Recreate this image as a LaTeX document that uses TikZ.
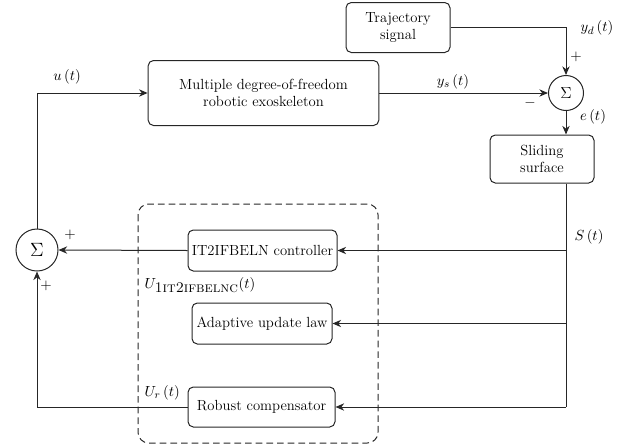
\documentclass[tikz,border=0pt]{standalone}
\usepackage{xcolor}
\usetikzlibrary{shapes.geometric, arrows.meta, positioning, calc}

\begin{document}
\begin{tikzpicture}[
    x=0.75pt, y=-0.75pt,
    every node/.style={font=\fontsize{11}{13}\selectfont},
    blk/.style={rectangle, rounded corners=4pt, draw=black!85, line width=0.75pt, align=center, inner sep=2pt},
    sumnode/.style={circle, draw=black!85, line width=0.75pt, inner sep=0pt},
    arr/.style={draw=black!85, line width=0.75pt, -{Stealth[length=6.5pt, width=5.5pt]}},
    wire/.style={draw=black!85, line width=0.75pt},
    lbl/.style={inner sep=1pt}
]
\useasboundingbox (0,0) rectangle (624,447);

% blocks
\node[blk, minimum width=173pt, minimum height=48.75pt] (plant) at (263.5,93) {Multiple degree-of-freedom\\robotic exoskeleton};
\node[blk, minimum width=78pt, minimum height=37.5pt] (traj) at (398,27.5) {Trajectory\\signal};
\node[sumnode, minimum size=26.25pt, font=\large] (sum1) at (566,93) {$\Sigma$};
\node[blk, minimum width=78pt, minimum height=36pt] (slide) at (542,159) {Sliding\\surface};
\node[blk, minimum width=111.75pt, minimum height=30.75pt] (ctrl) at (262.5,250.5) {IT2IFBELN controller};
\node[blk, minimum width=105pt, minimum height=30.75pt] (adapt) at (262,323.5) {Adaptive update law};
\node[blk, minimum width=110.25pt, minimum height=30pt] (robust) at (261.5,407) {Robust compensator};
\node[sumnode, minimum size=31.5pt, font=\Large] (sum2) at (37,250) {$\Sigma$};

% dashed frame
\draw[black!85, line width=0.75pt, dash pattern=on 5pt off 3pt, rounded corners=8pt] (138,204) rectangle (378,443);

% connectors
\draw[arr] (traj.east) -| (sum1.north);
\draw[arr] (plant.east) -- (sum1.west);
\draw[arr] (sum1.south) -- (sum1.south |- slide.north);
\coordinate (s1) at (sum1 |- ctrl.east);
\coordinate (s2) at (sum1 |- adapt.east);
\coordinate (s3) at (sum1 |- robust.east);
\draw[wire] (sum1 |- slide.south) -- (s3);
\draw[arr] (s1) -- (ctrl.east);
\draw[arr] (s2) -- (adapt.east);
\draw[arr] (s3) -- (robust.east);
\draw[arr] (ctrl.west) -- (sum2.east);
\draw[arr] (robust.west) -| (sum2.south);
\draw[arr] (sum2.north) |- (plant.west);

% labels
\node[lbl] (ulbl) at (67,77) {$u\,(t)$};
\node[lbl] (yslbl) at (453,82) {$y_s\,(t)$};
\node[lbl] (ydlbl) at (597,28) {$y_d\,(t)$};
\node[lbl] (plus1) at (576,57) {$+$};
\node[lbl] (minus1) at (530,103) {$-$};
\node[lbl] (elbl) at (593,117) {$e\,(t)$};
\node[lbl] (slbl) at (589,237) {$S\,(t)$};
\node[lbl] (plus2) at (70,235) {$+$};
\node[lbl] (plus3) at (46,286) {$+$};
\node[lbl, anchor=west] (ulbl1) at (143,285) {$U_{\textsc{1it2ifbelnc}}(t)$};
\node[lbl, anchor=west] (urlbl) at (143,393) {$U_r\,(t)$};
\end{tikzpicture}
\end{document}
